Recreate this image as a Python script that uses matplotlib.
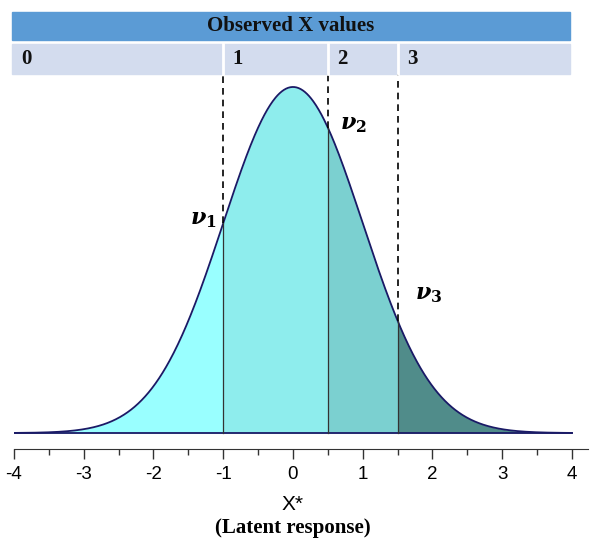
import numpy as np
import matplotlib.pyplot as plt
from matplotlib.patches import Rectangle
from matplotlib.transforms import blended_transform_factory

# thresholds on the latent scale and the observed categories
thresholds = [-1.0, 0.5, 1.5]
categories = ["0", "1", "2", "3"]
threshold_labels = [r"$\nu_1$", r"$\nu_2$", r"$\nu_3$"]
region_colors = ["#99FFFF", "#8EEDED", "#7BD0D0", "#508C8A"]

x_ticks = [-4, -3, -2, -1, 0, 1, 2, 3, 4]

plt.rcParams["mathtext.fontset"] = "custom"
plt.rcParams["mathtext.it"] = "DejaVu Serif:italic:bold"
plt.rcParams["mathtext.rm"] = "DejaVu Serif:bold"

x = np.linspace(-4, 4, 801)
pdf = np.exp(-x ** 2 / 2) / np.sqrt(2 * np.pi)


def density(v):
    return np.exp(-v ** 2 / 2) / np.sqrt(2 * np.pi)


fig = plt.figure(figsize=(6.02, 5.43), dpi=100)
ax = fig.add_axes([14 / 602, (543 - 449) / 543, (588 - 14) / 602, (449 - 74) / 543])
ax.set_xlim(-4, 4.23)
ax.set_ylim(-0.0184, 0.4139)

# shaded regions under the curve
edges = [-4] + thresholds + [4]
for i in range(len(categories)):
    m = (x >= edges[i]) & (x <= edges[i + 1])
    ax.fill_between(x[m], 0, pdf[m], color=region_colors[i], lw=0)

ax.plot(x, pdf, color="#1A1A66", lw=1.3)
ax.plot([-4, 4], [0, 0], color="#1A1A66", lw=1.3)

tr = blended_transform_factory(ax.transData, fig.transFigure)
y_axes_top = (543 - 74) / 543

for t, lab, pos in zip(thresholds, threshold_labels, [(-1.29, 0.246), (0.86, 0.355), (1.95, 0.159)]):
    ax.plot([t, t], [0, density(t)], color="#333333", lw=0.9)
    ax.plot([t, t], [density(t), 0.4139], color="black", lw=1.2, ls=(0, (4, 3)), clip_on=False)
    ax.text(pos[0], pos[1], lab, fontsize=16, ha="center", va="center")

# banner on top
top_y0 = (543 - 40) / 543
top_h = 28 / 543
ax.add_patch(Rectangle((-4.03, top_y0), 8.0, top_h, transform=tr, color="#5B9BD5", clip_on=False))
ax.text(-0.03, top_y0 + top_h / 2, "Observed X values", transform=tr, ha="center", va="center",
        fontsize=15, fontweight="bold", family="Liberation Serif", color="#111111")

row_y0 = y_axes_top
row_h = 30 / 543
ax.add_patch(Rectangle((-4.03, row_y0), 8.0, row_h, transform=tr, color="#D3DCEE", clip_on=False))
for t in thresholds:
    ax.plot([t, t], [row_y0, row_y0 + row_h], transform=tr, color="white", lw=2, clip_on=False)
for left, cat in zip([-4.03] + thresholds, categories):
    ax.text(left + 0.13, row_y0 + row_h / 2, cat, transform=tr, ha="left", va="center",
            fontsize=15, fontweight="bold", family="Liberation Serif", color="#111111")

# axis styling
for s in ["top", "right", "left"]:
    ax.spines[s].set_visible(False)
ax.spines["bottom"].set_color("#333333")
ax.set_yticks([])
ax.set_xticks(x_ticks)
ax.set_xticklabels([str(v) for v in x_ticks], family="Liberation Sans", fontsize=13.5)
ax.set_xticks(np.arange(-3.5, 4, 1.0), minor=True)
ax.tick_params(axis="x", which="major", length=7, width=1, color="#333333", pad=5)
ax.tick_params(axis="x", which="minor", length=4, width=1, color="#333333")

fig.text(293 / 602, (543 - 505) / 543, "X*", ha="center", va="center", fontsize=15, family="Liberation Sans")
fig.text(293 / 602, (543 - 528) / 543, "(Latent response)", ha="center", va="center",
         fontsize=15, fontweight="bold", family="Liberation Serif")

fig.savefig("out.png", dpi=100)
